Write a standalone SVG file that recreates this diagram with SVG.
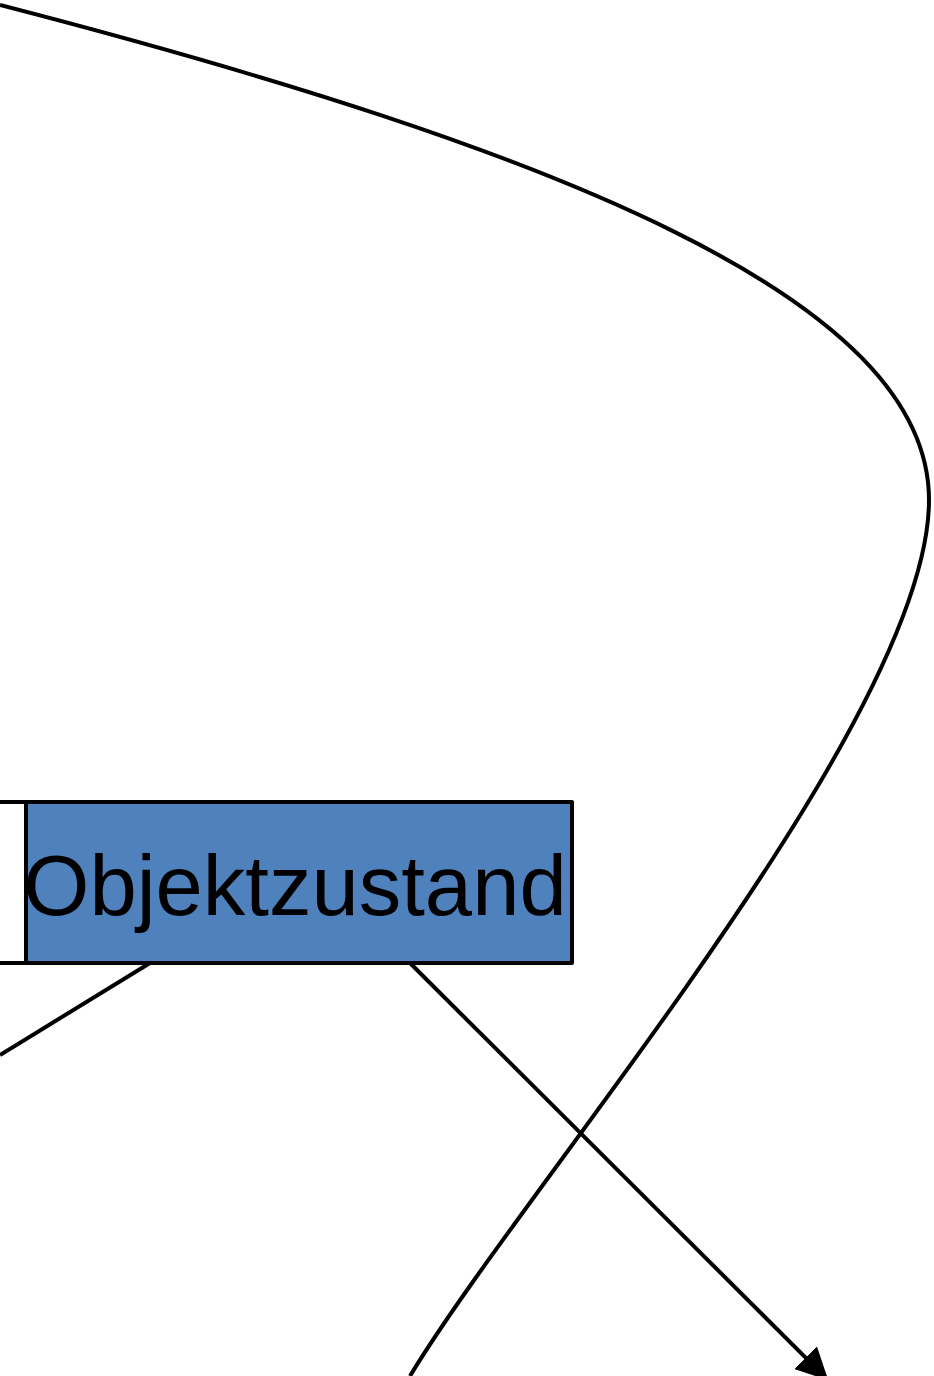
<svg xmlns="http://www.w3.org/2000/svg" width="934" height="1376" viewBox="0 0 934 1376">
  <style>
    .edge { fill: none; stroke: #000; stroke-width: 4; }
    .box { stroke: #000; stroke-width: 4; stroke-linejoin: round; }
    .label { font-family: "Liberation Sans", Arial, sans-serif; font-size: 85px; fill: #000; }
  </style>
  <defs>
    <marker id="arrow" viewBox="0 0 10 10" refX="9" refY="5" markerWidth="8" markerHeight="8" markerUnits="strokeWidth" orient="auto">
      <path d="M0,0 L10,5 L0,10 z" fill="#000"/>
    </marker>
  </defs>
  <rect width="934" height="1376" fill="#fff"/>
  <g id="connectors">
    <path class="edge" d="M0,5 C560,150 929,300 929,500 C929,720 525,1185 410,1376"/>
    <path class="edge" d="M150,963 L0,1055"/>
    <path class="edge" d="M410,963 L826,1378" marker-end="url(#arrow)"/>
  </g>
  <g id="node-left">
    <rect class="box" x="-20" y="802" width="46" height="161" fill="#fff"/>
  </g>
  <g id="node-objektzustand">
    <rect class="box" x="26" y="802" width="546" height="161" fill="#4F81BD"/>
    <text class="label" x="295" y="915" text-anchor="middle">Objektzustand</text>
  </g>
</svg>
